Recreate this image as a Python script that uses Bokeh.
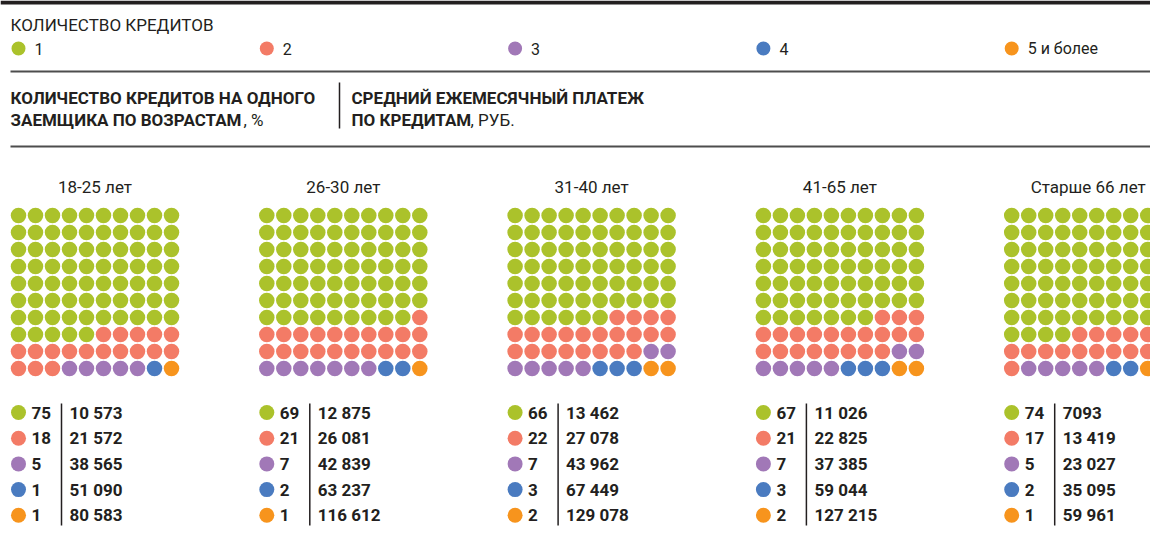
from bokeh.plotting import figure
from bokeh.models import Range1d
from bokeh.core.properties import value
from bokeh.embed import file_html
from bokeh.resources import INLINE

# ---- data ----
legend_title = "КОЛИЧЕСТВО КРЕДИТОВ"
categories = ["1", "2", "3", "4", "5 и более"]
colors = ["#abc22b", "#f37b66", "#a178b7", "#4a7bc0", "#f7941d"]
ages = ["18-25 лет", "26-30 лет", "31-40 лет", "41-65 лет", "Старше 66 лет"]
pct_18_25 = [75, 18, 5, 1, 1]
pct_26_30 = [69, 21, 7, 2, 1]
pct_31_40 = [66, 22, 7, 3, 2]
pct_41_65 = [67, 21, 7, 3, 2]
pct_66 = [74, 17, 5, 2, 1]
pay_18_25 = ["10 573", "21 572", "38 565", "51 090", "80 583"]
pay_26_30 = ["12 875", "26 081", "42 839", "63 237", "116 612"]
pay_31_40 = ["13 462", "27 078", "43 962", "67 449", "129 078"]
pay_41_65 = ["11 026", "22 825", "37 385", "59 044", "127 215"]
pay_66 = ["7093", "13 419", "23 027", "35 095", "59 961"]
pcts = [pct_18_25, pct_26_30, pct_31_40, pct_41_65, pct_66]
pays = [pay_18_25, pay_26_30, pay_31_40, pay_41_65, pay_66]
head_left_bold = ["КОЛИЧЕСТВО КРЕДИТОВ НА ОДНОГО", "ЗАЕМЩИКА ПО ВОЗРАСТАМ"]
head_left_unit = ", %"
head_right_bold = ["СРЕДНИЙ ЕЖЕМЕСЯЧНЫЙ ПЛАТЕЖ", "ПО КРЕДИТАМ"]
head_right_unit = ", РУБ."

FONT = "Roboto"
TXT = "#231f20"

p = figure(width=1150, height=548, output_backend="svg", toolbar_location=None,
           x_range=Range1d(0, 1150), y_range=Range1d(548, 0), min_border=0)
p.axis.visible = False
p.grid.visible = False
p.outline_line_color = None

# top bar and header lines
p.quad(left=[0], right=[1150], top=[0], bottom=[4], color=TXT, line_color=None)
p.segment(x0=[10, 10], y0=[71, 146], x1=[1150, 1150], y1=[71, 146], line_color="#4d4d4d", line_width=2)
p.segment(x0=[339], y0=[82], x1=[339], y1=[128], line_color=TXT, line_width=1.5)

p.text(x=[10], y=[24], text=[legend_title], text_font=value(FONT), text_font_size="17px",
       text_color=TXT, text_baseline="middle")

panel_x = [18 + i * 248.3 for i in range(5)]

# legend
p.scatter(x=panel_x, y=[48] * 5, size=14, color=colors, line_color=None)
p.text(x=[x + 16 for x in panel_x], y=[48] * 5, text=categories, text_font=value(FONT),
       text_font_size="16px", text_color=TXT, text_baseline="middle")

# headings
p.text(x=[10, 10], y=[97, 119], text=head_left_bold, text_font=value(FONT), text_font_size="17px",
       text_font_style="bold", text_color=TXT, text_baseline="middle")
p.text(x=[243], y=[119], text=[head_left_unit], text_font=value(FONT), text_font_size="17px",
       text_color=TXT, text_baseline="middle")
p.text(x=[351, 351], y=[97, 119], text=head_right_bold, text_font=value(FONT), text_font_size="17px",
       text_font_style="bold", text_color=TXT, text_baseline="middle")
p.text(x=[470], y=[119], text=[head_right_unit], text_font=value(FONT), text_font_size="17px",
       text_color=TXT, text_baseline="middle")

# waffles
wx, wy, wc = [], [], []
for i, pc in enumerate(pcts):
    cells = []
    for k, n in enumerate(pc):
        cells += [colors[k]] * n
    for j, c in enumerate(cells):
        r, col = divmod(j, 10)
        wx.append(panel_x[i] + col * 17)
        wy.append(215 + r * 17)
        wc.append(c)
p.scatter(x=wx, y=wy, size=15.5, color=wc, line_color=None)

# titles
p.text(x=[x + 76.5 for x in panel_x], y=[186] * 5, text=ages, text_font=value(FONT),
       text_font_size="17px", text_color=TXT, text_align="center", text_baseline="middle")

# tables
tx, ty, tc, tp, tv, px_, vx_ = [], [], [], [], [], [], []
for i in range(5):
    for k in range(5):
        tx.append(panel_x[i]); ty.append(412 + k * 25.7); tc.append(colors[k])
        tp.append(str(pcts[i][k])); tv.append(pays[i][k])
        px_.append(panel_x[i] + 13); vx_.append(panel_x[i] + 51)
p.scatter(x=tx, y=ty, size=15, color=tc, line_color=None)
p.text(x=px_, y=ty, text=tp, text_font=value(FONT), text_font_size="17px", text_font_style="bold",
       text_color=TXT, text_baseline="middle")
p.text(x=vx_, y=ty, text=tv, text_font=value(FONT), text_font_size="17px", text_font_style="bold",
       text_color=TXT, text_baseline="middle")
p.segment(x0=[x + 43 for x in panel_x], y0=[403] * 5, x1=[x + 43 for x in panel_x], y1=[525] * 5,
          line_color=TXT, line_width=1.5)

open("out.html", "w").write(file_html(p, INLINE))
